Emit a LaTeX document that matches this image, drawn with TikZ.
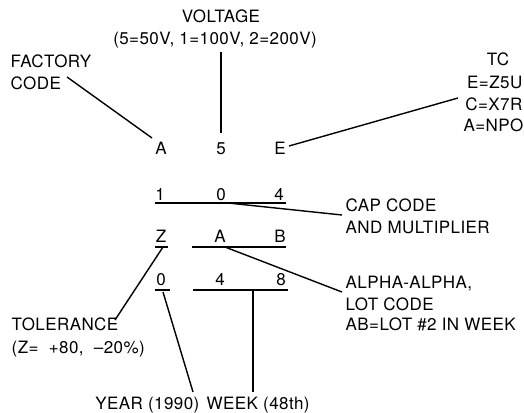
\documentclass[tikz,border=0pt]{standalone}
\usepackage{fontspec}
\setmainfont{TeX Gyre Heros}[LetterSpace=2.5]
\tikzset{
  lbl/.style={font=\fontsize{17}{20}\selectfont, inner sep=0pt, anchor=base west},
  dig/.style={font=\fontsize{17}{20}\selectfont, inner sep=0pt, anchor=base},
  rlbl/.style={font=\fontsize{17}{20}\selectfont, inner sep=0pt, anchor=base east},
}
\begin{document}
\begin{tikzpicture}[x=1pt, y=-1pt, line width=1.4pt]
	\useasboundingbox (0,0) rectangle (524,412);

	% labels on top
	\node [dig] (volt) at (221,23) {VOLTAGE};
	\node [dig] (voltval) at (215,45) {(5=50V, 1=100V, 2=200V)};
	\node [lbl] (fact) at (10,67) {FACTORY};
	\node [lbl] (factcode) at (10,89) {CODE};
	\node [dig] (tc) at (498,66) {TC};
	\node [rlbl] (tcE) at (523,88) {E=Z5U};
	\node [rlbl] (tcC) at (523,110) {C=X7R};
	\node [rlbl] (tcA) at (524,131) {A=NPO};

	% the four rows of the marking
	\node [dig] (rA) at (161,154) {A};
	\node [dig] (r5) at (221,154) {5};
	\node [dig] (rE) at (280,154) {E};
	\node [dig] (r1) at (160,200) {1};
	\node [dig] (r0) at (221,200) {0};
	\node [dig] (r4) at (279,200) {4};
	\node [dig] (rZ) at (161,242) {Z};
	\node [dig] (rAA) at (220,242) {A};
	\node [dig] (rB) at (280,242) {B};
	\node [dig] (rY) at (161,285) {0};
	\node [dig] (rW1) at (220,285) {4};
	\node [dig] (rW2) at (281,285) {8};

	% labels on the right and at the bottom
	\node [lbl] (cap) at (345,211) {CAP CODE};
	\node [lbl] (mult) at (345,233) {AND MULTIPLIER};
	\node [lbl] (alpha) at (345,288) {ALPHA-ALPHA,};
	\node [lbl] (lot) at (345,310) {LOT CODE};
	\node [lbl] (lotex) at (345,330) {AB=LOT \#2 IN WEEK};
	\node [lbl] (tol) at (11,330) {TOLERANCE};
	\node [lbl] (tolval) at (11,353) {(Z=\ \ +80,\ \ --20\%)};
	\node [rlbl] (year) at (200,409) {YEAR (1990)};
	\node [lbl] (week) at (206,409) {WEEK (48th)};

	% underlines
	\coordinate (u1a) at (155,203); \coordinate (u1b) at (286,203);
	\coordinate (u2a) at (155,247); \coordinate (u2b) at (168,247);
	\coordinate (u3a) at (192,247); \coordinate (u3b) at (286,247);
	\coordinate (u4a) at (155,290); \coordinate (u4b) at (170,290);
	\coordinate (u5a) at (193,290); \coordinate (u5b) at (288,290);
	\draw (u1a) -- (u1b);
	\draw (u2a) -- (u2b);
	\draw (u3a) -- (u3b);
	\draw (u4a) -- (u4b);
	\draw (u5a) -- (u5b);

	% leader lines
	\coordinate (factend) at (67,77);   \coordinate (factA) at (152,138);
	\coordinate (voltend) at (221,52);  \coordinate (volt5) at (221,133);
	\coordinate (tcend) at (458,98);    \coordinate (tcEE) at (289,146);
	\coordinate (capend) at (342,215);  \coordinate (cap0) at (228,203);
	\coordinate (alphaend) at (342,292); \coordinate (alphaA) at (225,247);
	\coordinate (tolend) at (115,320);  \coordinate (tolZ) at (163,247);
	\coordinate (yearend) at (193,392); \coordinate (year0) at (163,292);
	\coordinate (weekend) at (253,392); \coordinate (week48) at (253,290);
	\draw (factend) -- (factA);
	\draw (voltend) -- (volt5);
	\draw (tcend) -- (tcEE);
	\draw (cap0) -- (capend);
	\draw (alphaA) -- (alphaend);
	\draw (tolZ) -- (tolend);
	\draw (year0) -- (yearend);
	\draw (week48) -- (weekend);

\end{tikzpicture}
\end{document}
